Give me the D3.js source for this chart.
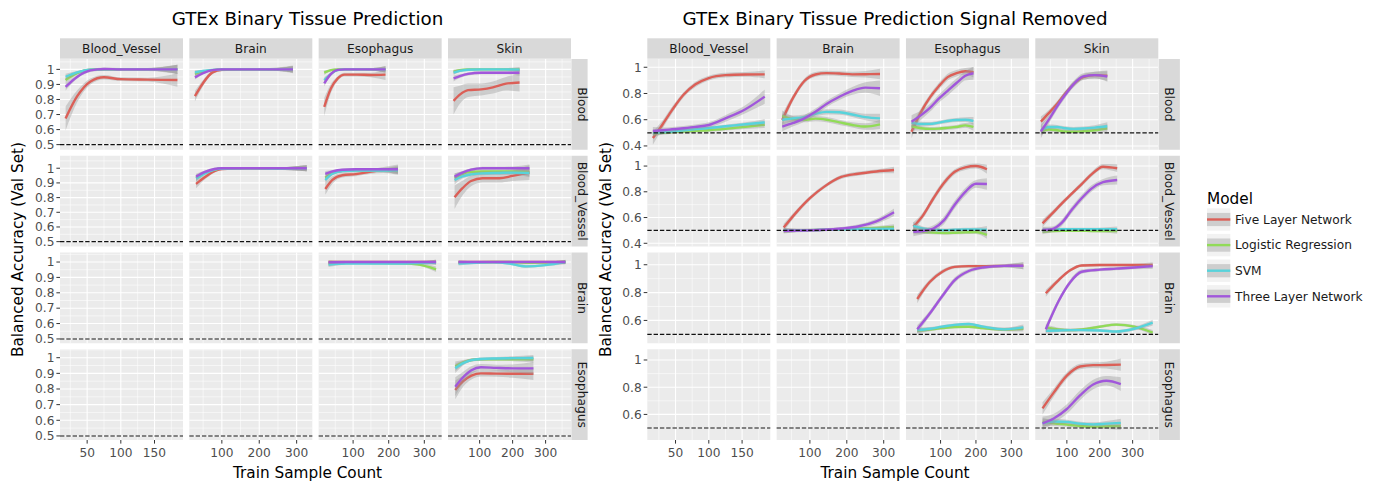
<!DOCTYPE html>
<html>
<head>
<meta charset="utf-8">
<script src="https://cdn.jsdelivr.net/npm/d3@7"></script>
<style>
body { margin: 0; background: #fff; }
svg { display: block; font-family: "DejaVu Sans", sans-serif; }
</style>
</head>
<body>
<svg id="chart" width="1381" height="486"></svg>
<script>
var models = ["Five Layer Network", "Logistic Regression", "SVM", "Three Layer Network"];
var modelColors = ["#db5f57", "#91db57", "#57d3db", "#a157db"];
var colTissues = ["Blood_Vessel", "Brain", "Esophagus", "Skin"];
var rowTissues = ["Blood", "Blood_Vessel", "Brain", "Esophagus"];

var xTicksBV = [50, 100, 150],
    xTicksOther = [100, 200, 300];
var leftYTicks = [0.5, 0.6, 0.7, 0.8, 0.9, 1],
    rightYTicks = [0.4, 0.6, 0.8, 1];
var leftYDomains = [[0.466, 1.069], [0.467, 1.085], [0.472, 1.062], [0.474, 1.054]];
var rightYDomains = [[0.371, 1.063], [0.375, 1.08], [0.436, 1.088], [0.412, 1.079]];
var chanceLevel = 0.5;

// ---- left chart: GTEx Binary Tissue Prediction ----
// each panel: x, mean per model, se per model (order as `models`)
var lBloodBV_x = [18, 35, 55, 75, 100, 140, 184];
var lBloodBV_y = [
    [0.674, 0.82, 0.92, 0.948, 0.935, 0.932, 0.929],
    [0.93, 0.975, 0.998, 1.0, 1.0, 1.0, 1.0],
    [0.951, 0.98, 0.998, 1.0, 1.0, 1.0, 1.0],
    [0.884, 0.95, 0.993, 1.003, 1.0, 1.0, 1.0]];
var lBloodBV_se = [
    [0.08, 0.04, 0.02, 0.015, 0.012, 0.012, 0.045],
    [0.02, 0.01, 0.008, 0.008, 0.008, 0.008, 0.03],
    [0.02, 0.01, 0.008, 0.008, 0.008, 0.008, 0.03],
    [0.025, 0.012, 0.01, 0.01, 0.01, 0.01, 0.03]];

var lBloodBrain_x = [28, 50, 75, 100, 150, 220, 290];
var lBloodBrain_y = [
    [0.822, 0.91, 0.98, 0.997, 1.0, 1.0, 1.0],
    [0.97, 0.985, 0.995, 1.0, 1.0, 1.0, 1.0],
    [0.98, 0.99, 0.997, 1.0, 1.0, 1.0, 1.0],
    [0.947, 0.975, 0.995, 1.0, 1.0, 1.0, 1.0]];
var lBloodBrain_se = [
    [0.035, 0.02, 0.012, 0.01, 0.008, 0.008, 0.025],
    [0.015, 0.008, 0.006, 0.006, 0.006, 0.006, 0.02],
    [0.015, 0.008, 0.006, 0.006, 0.006, 0.006, 0.02],
    [0.015, 0.008, 0.006, 0.006, 0.006, 0.006, 0.02]];

var lBloodEso_x = [19, 38, 57, 76, 110, 150, 191];
var lBloodEso_y = [
    [0.751, 0.874, 0.94, 0.965, 0.965, 0.963, 0.965],
    [0.978, 0.995, 1.0, 1.0, 1.0, 1.0, 1.0],
    [0.929, 0.97, 0.995, 1.0, 1.0, 1.0, 1.0],
    [0.907, 0.97, 0.997, 1.0, 1.0, 1.0, 1.0]];
var lBloodEso_se = [
    [0.06, 0.03, 0.015, 0.012, 0.012, 0.015, 0.035],
    [0.015, 0.008, 0.006, 0.006, 0.006, 0.008, 0.02],
    [0.02, 0.01, 0.006, 0.006, 0.006, 0.008, 0.02],
    [0.02, 0.01, 0.006, 0.006, 0.006, 0.008, 0.02]];

var lBloodSkin_x = [21, 40, 65, 105, 140, 180, 221];
var lBloodSkin_y = [
    [0.791, 0.832, 0.862, 0.867, 0.88, 0.905, 0.913],
    [0.985, 0.995, 1.0, 1.0, 1.0, 1.0, 1.0],
    [0.978, 0.99, 0.998, 1.0, 1.0, 1.0, 0.998],
    [0.94, 0.955, 0.97, 0.978, 0.978, 0.978, 0.978]];
var lBloodSkin_se = [
    [0.09, 0.06, 0.045, 0.04, 0.04, 0.045, 0.06],
    [0.015, 0.008, 0.006, 0.006, 0.006, 0.008, 0.015],
    [0.015, 0.008, 0.006, 0.006, 0.006, 0.008, 0.015],
    [0.02, 0.012, 0.01, 0.01, 0.01, 0.01, 0.02]];

var lBVBrain_x = [31, 55, 80, 100, 160, 240, 327];
var lBVBrain_y = [
    [0.893, 0.94, 0.98, 0.995, 1.0, 0.998, 1.0],
    [0.935, 0.97, 0.99, 1.0, 1.0, 0.998, 1.0],
    [0.93, 0.965, 0.99, 0.998, 1.0, 0.998, 1.0],
    [0.943, 0.975, 0.995, 1.0, 1.0, 1.0, 1.0]];
var lBVBrain_se = [
    [0.03, 0.015, 0.01, 0.008, 0.008, 0.008, 0.02],
    [0.02, 0.01, 0.008, 0.006, 0.006, 0.006, 0.02],
    [0.02, 0.01, 0.008, 0.006, 0.006, 0.006, 0.02],
    [0.02, 0.01, 0.008, 0.006, 0.006, 0.006, 0.02]];

var lBVEso_x = [22, 42, 70, 108, 146, 186, 226];
var lBVEso_y = [
    [0.859, 0.92, 0.952, 0.96, 0.975, 0.988, 0.99],
    [0.935, 0.968, 0.982, 0.986, 0.987, 0.987, 0.985],
    [0.92, 0.962, 0.98, 0.985, 0.985, 0.985, 0.985],
    [0.961, 0.978, 0.99, 0.993, 0.993, 0.993, 0.993]];
var lBVEso_se = [
    [0.04, 0.025, 0.015, 0.015, 0.015, 0.02, 0.035],
    [0.025, 0.012, 0.01, 0.01, 0.01, 0.012, 0.025],
    [0.025, 0.012, 0.01, 0.01, 0.01, 0.012, 0.025],
    [0.02, 0.01, 0.008, 0.008, 0.008, 0.01, 0.025]];

var lBVSkin_x = [24, 48, 74, 109, 160, 200, 251];
var lBVSkin_y = [
    [0.802, 0.864, 0.913, 0.932, 0.932, 0.948, 0.97],
    [0.935, 0.962, 0.975, 0.978, 0.978, 0.978, 0.975],
    [0.92, 0.945, 0.958, 0.965, 0.968, 0.97, 0.968],
    [0.943, 0.97, 0.99, 1.0, 1.0, 1.0, 1.0]];
var lBVSkin_se = [
    [0.08, 0.05, 0.035, 0.03, 0.03, 0.035, 0.05],
    [0.03, 0.015, 0.012, 0.012, 0.012, 0.015, 0.03],
    [0.03, 0.015, 0.012, 0.012, 0.012, 0.015, 0.03],
    [0.02, 0.012, 0.01, 0.01, 0.01, 0.012, 0.025]];

var lBrainEso_x = [31, 80, 130, 180, 230, 280, 333];
var lBrainEso_y = [
    [1.0, 1.0, 1.0, 1.0, 1.0, 1.0, 1.0],
    [0.99, 0.995, 0.995, 0.993, 0.992, 0.985, 0.953],
    [0.983, 0.99, 0.99, 0.99, 0.99, 0.993, 0.995],
    [0.998, 1.0, 1.0, 1.0, 1.0, 1.0, 1.0]];
var lBrainEso_se = [
    [0.012, 0.006, 0.005, 0.005, 0.005, 0.006, 0.015],
    [0.015, 0.008, 0.006, 0.006, 0.006, 0.008, 0.018],
    [0.015, 0.008, 0.006, 0.006, 0.006, 0.008, 0.015],
    [0.012, 0.006, 0.005, 0.005, 0.005, 0.006, 0.015]];

var lBrainSkin_x = [36, 90, 140, 190, 240, 300, 360];
var lBrainSkin_y = [
    [1.0, 1.0, 1.0, 1.0, 1.0, 1.0, 1.0],
    [0.995, 0.998, 1.0, 1.0, 0.995, 0.997, 1.0],
    [0.99, 0.995, 0.998, 0.99, 0.972, 0.98, 1.0],
    [1.0, 1.0, 1.0, 1.0, 1.0, 1.0, 1.0]];
var lBrainSkin_se = [
    [0.01, 0.005, 0.005, 0.005, 0.005, 0.005, 0.012],
    [0.01, 0.005, 0.005, 0.005, 0.006, 0.006, 0.012],
    [0.012, 0.006, 0.006, 0.008, 0.01, 0.008, 0.015],
    [0.01, 0.005, 0.005, 0.005, 0.005, 0.005, 0.012]];

var lEsoSkin_x = [26, 50, 75, 104, 150, 200, 263];
var lEsoSkin_y = [
    [0.794, 0.85, 0.885, 0.9, 0.898, 0.897, 0.897],
    [0.945, 0.97, 0.985, 0.99, 0.99, 0.99, 0.99],
    [0.932, 0.965, 0.985, 0.992, 0.995, 0.997, 0.998],
    [0.815, 0.875, 0.92, 0.939, 0.935, 0.932, 0.932]];
var lEsoSkin_se = [
    [0.06, 0.035, 0.025, 0.02, 0.02, 0.025, 0.04],
    [0.03, 0.015, 0.01, 0.01, 0.01, 0.012, 0.02],
    [0.03, 0.015, 0.01, 0.01, 0.01, 0.012, 0.02],
    [0.06, 0.035, 0.025, 0.02, 0.02, 0.025, 0.04]];

// ---- right chart: Signal Removed ----
var rBloodBV_x = [16, 30, 45, 62, 80, 100, 125, 155, 184];
var rBloodBV_y = [
    [0.46, 0.56, 0.675, 0.79, 0.87, 0.918, 0.94, 0.945, 0.946],
    [0.497, 0.5, 0.505, 0.51, 0.515, 0.52, 0.53, 0.545, 0.562],
    [0.5, 0.505, 0.51, 0.52, 0.528, 0.537, 0.55, 0.565, 0.58],
    [0.514, 0.52, 0.527, 0.535, 0.545, 0.56, 0.61, 0.68, 0.776]];
var rBloodBV_se = [
    [0.05, 0.03, 0.025, 0.02, 0.02, 0.018, 0.018, 0.018, 0.03],
    [0.025, 0.015, 0.012, 0.012, 0.012, 0.012, 0.012, 0.015, 0.025],
    [0.025, 0.015, 0.012, 0.012, 0.012, 0.012, 0.012, 0.015, 0.025],
    [0.03, 0.02, 0.018, 0.018, 0.018, 0.02, 0.025, 0.03, 0.055]];

var rBloodBrain_x = [25, 55, 85, 115, 145, 180, 215, 250, 290];
var rBloodBrain_y = [
    [0.598, 0.77, 0.895, 0.945, 0.955, 0.952, 0.946, 0.947, 0.949],
    [0.63, 0.605, 0.6, 0.608, 0.6, 0.58, 0.56, 0.548, 0.565],
    [0.6, 0.61, 0.62, 0.645, 0.66, 0.657, 0.64, 0.62, 0.61],
    [0.547, 0.575, 0.61, 0.66, 0.72, 0.775, 0.82, 0.845, 0.84]];
var rBloodBrain_se = [
    [0.045, 0.025, 0.02, 0.018, 0.018, 0.018, 0.02, 0.025, 0.04],
    [0.04, 0.022, 0.02, 0.02, 0.02, 0.02, 0.02, 0.025, 0.035],
    [0.04, 0.022, 0.02, 0.02, 0.02, 0.02, 0.02, 0.025, 0.035],
    [0.035, 0.025, 0.025, 0.025, 0.025, 0.025, 0.03, 0.04, 0.06]];

var rBloodEso_x = [18, 45, 70, 95, 120, 145, 170, 193];
var rBloodEso_y = [
    [0.509, 0.66, 0.77, 0.855, 0.925, 0.955, 0.97, 0.962],
    [0.55, 0.535, 0.53, 0.532, 0.538, 0.545, 0.557, 0.545],
    [0.578, 0.567, 0.568, 0.578, 0.59, 0.598, 0.6, 0.59],
    [0.585, 0.635, 0.69, 0.76, 0.82, 0.88, 0.935, 0.954]];
var rBloodEso_se = [
    [0.05, 0.03, 0.025, 0.025, 0.025, 0.025, 0.025, 0.04],
    [0.03, 0.018, 0.015, 0.015, 0.015, 0.015, 0.018, 0.03],
    [0.03, 0.018, 0.015, 0.015, 0.015, 0.015, 0.018, 0.03],
    [0.05, 0.035, 0.03, 0.03, 0.035, 0.035, 0.035, 0.05]];

var rBloodSkin_x = [21, 45, 70, 95, 120, 150, 185, 223];
var rBloodSkin_y = [
    [0.585, 0.65, 0.72, 0.8, 0.87, 0.925, 0.94, 0.936],
    [0.509, 0.525, 0.52, 0.51, 0.508, 0.512, 0.52, 0.535],
    [0.52, 0.545, 0.545, 0.535, 0.53, 0.533, 0.54, 0.55],
    [0.509, 0.6, 0.7, 0.79, 0.87, 0.93, 0.94, 0.93]];
var rBloodSkin_se = [
    [0.04, 0.025, 0.02, 0.02, 0.02, 0.02, 0.025, 0.04],
    [0.03, 0.018, 0.015, 0.015, 0.015, 0.015, 0.018, 0.03],
    [0.03, 0.018, 0.015, 0.015, 0.015, 0.015, 0.018, 0.03],
    [0.05, 0.03, 0.025, 0.025, 0.025, 0.025, 0.025, 0.04]];

var rBVBrain_x = [29, 65, 100, 140, 185, 230, 280, 328];
var rBVBrain_y = [
    [0.522, 0.646, 0.75, 0.842, 0.915, 0.94, 0.958, 0.969],
    [0.5, 0.5, 0.502, 0.505, 0.51, 0.515, 0.52, 0.527],
    [0.5, 0.5, 0.502, 0.505, 0.508, 0.51, 0.512, 0.512],
    [0.496, 0.498, 0.5, 0.505, 0.515, 0.53, 0.57, 0.641]];
var rBVBrain_se = [
    [0.03, 0.02, 0.018, 0.015, 0.015, 0.015, 0.015, 0.025],
    [0.02, 0.012, 0.01, 0.01, 0.01, 0.01, 0.012, 0.02],
    [0.02, 0.012, 0.01, 0.01, 0.01, 0.01, 0.012, 0.02],
    [0.02, 0.012, 0.012, 0.012, 0.012, 0.015, 0.02, 0.03]];

var rBVEso_x = [23, 50, 80, 110, 140, 170, 200, 231];
var rBVEso_y = [
    [0.529, 0.615, 0.75, 0.87, 0.955, 0.99, 1.0, 0.975],
    [0.5, 0.49, 0.483, 0.48, 0.482, 0.485, 0.488, 0.465],
    [0.535, 0.515, 0.505, 0.502, 0.505, 0.508, 0.508, 0.505],
    [0.49, 0.495, 0.515, 0.58, 0.7, 0.8, 0.862, 0.86]];
var rBVEso_se = [
    [0.035, 0.025, 0.025, 0.025, 0.02, 0.02, 0.02, 0.035],
    [0.03, 0.015, 0.012, 0.012, 0.012, 0.012, 0.015, 0.03],
    [0.03, 0.015, 0.012, 0.012, 0.012, 0.012, 0.015, 0.03],
    [0.035, 0.025, 0.025, 0.03, 0.03, 0.03, 0.03, 0.045]];

var rBVSkin_x = [26, 55, 85, 115, 145, 175, 210, 253];
var rBVSkin_y = [
    [0.555, 0.63, 0.71, 0.785, 0.86, 0.935, 0.995, 0.983],
    [0.49, 0.495, 0.497, 0.497, 0.497, 0.495, 0.495, 0.495],
    [0.503, 0.508, 0.51, 0.51, 0.51, 0.51, 0.51, 0.51],
    [0.503, 0.51, 0.56, 0.66, 0.75, 0.825, 0.875, 0.892]];
var rBVSkin_se = [
    [0.03, 0.02, 0.018, 0.018, 0.018, 0.018, 0.02, 0.03],
    [0.02, 0.012, 0.01, 0.01, 0.01, 0.01, 0.012, 0.02],
    [0.02, 0.012, 0.01, 0.01, 0.01, 0.01, 0.012, 0.02],
    [0.025, 0.02, 0.025, 0.025, 0.025, 0.025, 0.025, 0.035]];

var rBrainEso_x = [34, 70, 105, 140, 180, 220, 280, 334];
var rBrainEso_y = [
    [0.754, 0.878, 0.95, 0.985, 0.99, 0.99, 0.992, 0.993],
    [0.525, 0.535, 0.545, 0.553, 0.555, 0.545, 0.535, 0.54],
    [0.53, 0.54, 0.555, 0.568, 0.574, 0.555, 0.536, 0.55],
    [0.536, 0.651, 0.775, 0.89, 0.955, 0.98, 0.992, 0.993]];
var rBrainEso_se = [
    [0.03, 0.018, 0.015, 0.012, 0.012, 0.012, 0.012, 0.025],
    [0.02, 0.012, 0.01, 0.01, 0.01, 0.01, 0.012, 0.02],
    [0.02, 0.012, 0.01, 0.01, 0.01, 0.01, 0.012, 0.02],
    [0.03, 0.02, 0.02, 0.02, 0.015, 0.012, 0.012, 0.025]];

var rBrainSkin_x = [36, 75, 110, 145, 200, 250, 305, 361];
var rBrainSkin_y = [
    [0.795, 0.89, 0.96, 0.995, 0.998, 0.998, 0.998, 0.998],
    [0.55, 0.535, 0.53, 0.535, 0.555, 0.57, 0.555, 0.512],
    [0.525, 0.528, 0.53, 0.53, 0.528, 0.52, 0.54, 0.584],
    [0.536, 0.74, 0.875, 0.95, 0.965, 0.972, 0.98, 0.99]];
var rBrainSkin_se = [
    [0.025, 0.015, 0.012, 0.01, 0.01, 0.01, 0.01, 0.02],
    [0.02, 0.012, 0.01, 0.01, 0.01, 0.01, 0.012, 0.02],
    [0.02, 0.012, 0.01, 0.01, 0.01, 0.01, 0.012, 0.02],
    [0.03, 0.02, 0.018, 0.015, 0.012, 0.012, 0.012, 0.02]];

var rEsoSkin_x = [26, 60, 100, 140, 180, 220, 264];
var rEsoSkin_y = [
    [0.644, 0.76, 0.885, 0.952, 0.962, 0.963, 0.966],
    [0.545, 0.535, 0.525, 0.515, 0.51, 0.512, 0.515],
    [0.534, 0.548, 0.545, 0.532, 0.527, 0.532, 0.538],
    [0.534, 0.57, 0.64, 0.74, 0.82, 0.848, 0.823]];
var rEsoSkin_se = [
    [0.045, 0.03, 0.025, 0.02, 0.02, 0.025, 0.045],
    [0.03, 0.02, 0.015, 0.015, 0.015, 0.02, 0.03],
    [0.03, 0.02, 0.015, 0.015, 0.015, 0.02, 0.03],
    [0.05, 0.035, 0.035, 0.035, 0.035, 0.035, 0.05]];

// [row, col, x, y, se]
var leftPanels = [
    [0, 0, lBloodBV_x, lBloodBV_y, lBloodBV_se],
    [0, 1, lBloodBrain_x, lBloodBrain_y, lBloodBrain_se],
    [0, 2, lBloodEso_x, lBloodEso_y, lBloodEso_se],
    [0, 3, lBloodSkin_x, lBloodSkin_y, lBloodSkin_se],
    [1, 1, lBVBrain_x, lBVBrain_y, lBVBrain_se],
    [1, 2, lBVEso_x, lBVEso_y, lBVEso_se],
    [1, 3, lBVSkin_x, lBVSkin_y, lBVSkin_se],
    [2, 2, lBrainEso_x, lBrainEso_y, lBrainEso_se],
    [2, 3, lBrainSkin_x, lBrainSkin_y, lBrainSkin_se],
    [3, 3, lEsoSkin_x, lEsoSkin_y, lEsoSkin_se]
];
var rightPanels = [
    [0, 0, rBloodBV_x, rBloodBV_y, rBloodBV_se],
    [0, 1, rBloodBrain_x, rBloodBrain_y, rBloodBrain_se],
    [0, 2, rBloodEso_x, rBloodEso_y, rBloodEso_se],
    [0, 3, rBloodSkin_x, rBloodSkin_y, rBloodSkin_se],
    [1, 1, rBVBrain_x, rBVBrain_y, rBVBrain_se],
    [1, 2, rBVEso_x, rBVEso_y, rBVEso_se],
    [1, 3, rBVSkin_x, rBVSkin_y, rBVSkin_se],
    [2, 2, rBrainEso_x, rBrainEso_y, rBrainEso_se],
    [2, 3, rBrainSkin_x, rBrainSkin_y, rBrainSkin_se],
    [3, 3, rEsoSkin_x, rEsoSkin_y, rEsoSkin_se]
];

var panel = {
        w: 123,
        h: 90.75,
        colStep: 129.33,
        rowStep: 96.75,
        top: 59
    },
    strip = { top: 38.3, h: 20.4 },
    fontSmall = "12.2px",
    fontAxis = "15.3px",
    svg = d3.select("#chart");

svg.append("rect").attr("width", 1381).attr("height", 486).attr("fill", "#fff");

var clipCount = 0;

function fmt(v) {
    return String(+v.toFixed(2));
}

function minorsOf(ticks, domain) {
    var step = ticks[1] - ticks[0], out = [];
    ticks.forEach(function(t) { out.push(t - step / 2); });
    out.push(ticks[ticks.length - 1] + step / 2);
    return out.filter(function(m) { return m > domain[0] && m < domain[1]; });
}

function drawChart(opts) {
    var g = svg.append("g");

    // x domain per column from data extent, 5% expanded like ggplot
    var xScales = colTissues.map(function(t, c) {
        var all = [];
        opts.panels.forEach(function(p) { if (p[1] === c) all = all.concat(p[2]); });
        var ext = d3.extent(all), pad = (ext[1] - ext[0]) * 0.05;
        return d3.scaleLinear().domain([ext[0] - pad, ext[1] + pad]).range([0, panel.w]);
    });
    var yScales = rowTissues.map(function(t, r) {
        return d3.scaleLinear().domain(opts.yDomains[r]).range([panel.h, 0]);
    });

    for (var r = 0; r < 4; r++) {
        for (var c = 0; c < 4; c++) {
            var px = opts.x0 + c * panel.colStep,
                py = panel.top + r * panel.rowStep,
                x = xScales[c], y = yScales[r];
            var xt = c === 0 ? xTicksBV : xTicksOther;
            var yt = opts.yTicks.filter(function(v) { return v >= y.domain()[0] && v <= y.domain()[1]; });
            var xMinor = minorsOf(xt, x.domain()),
                yMinor = minorsOf(opts.yTicks, y.domain());

            var pg = g.append("g").attr("transform", "translate(" + px + "," + py + ")");
            pg.append("rect").attr("width", panel.w).attr("height", panel.h).attr("fill", "#EBEBEB");

            pg.selectAll(".xminor").data(xMinor).enter().append("line")
                .attr("x1", x).attr("x2", x).attr("y1", 0).attr("y2", panel.h)
                .attr("stroke", "#fff").attr("stroke-width", 0.55);
            pg.selectAll(".yminor").data(yMinor).enter().append("line")
                .attr("y1", y).attr("y2", y).attr("x1", 0).attr("x2", panel.w)
                .attr("stroke", "#fff").attr("stroke-width", 0.55);
            pg.selectAll(".xmajor").data(xt).enter().append("line")
                .attr("x1", x).attr("x2", x).attr("y1", 0).attr("y2", panel.h)
                .attr("stroke", "#fff").attr("stroke-width", 1.1);
            pg.selectAll(".ymajor").data(yt).enter().append("line")
                .attr("y1", y).attr("y2", y).attr("x1", 0).attr("x2", panel.w)
                .attr("stroke", "#fff").attr("stroke-width", 1.1);

            var pdata = opts.panels.filter(function(p) { return p[0] === r && p[1] === c; })[0];
            if (pdata) {
                var cid = "clip" + (clipCount++);
                pg.append("clipPath").attr("id", cid)
                    .append("rect").attr("width", panel.w).attr("height", panel.h);
                var dg = pg.append("g").attr("clip-path", "url(#" + cid + ")");
                models.forEach(function(m, k) {
                    var pts = pdata[2].map(function(xv, i) {
                        return { x: xv, v: pdata[3][k][i], se: pdata[4][k][i] };
                    });
                    var area = d3.area().curve(d3.curveMonotoneX)
                        .x(function(d) { return x(d.x); })
                        .y0(function(d) { return y(d.v - d.se); })
                        .y1(function(d) { return y(d.v + d.se); });
                    var line = d3.line().curve(d3.curveMonotoneX)
                        .x(function(d) { return x(d.x); })
                        .y(function(d) { return y(d.v); });
                    dg.append("path").attr("d", area(pts))
                        .attr("fill", "#999999").attr("fill-opacity", 0.4);
                    dg.append("path").attr("d", line(pts))
                        .attr("fill", "none").attr("stroke", modelColors[k])
                        .attr("stroke-width", 2.4);
                });
            }

            // chance line
            pg.append("line")
                .attr("x1", 0).attr("x2", panel.w)
                .attr("y1", y(chanceLevel)).attr("y2", y(chanceLevel))
                .attr("stroke", "#111").attr("stroke-width", 1.1)
                .attr("stroke-dasharray", "4.4,1.9");

            // top strips
            if (r === 0) {
                g.append("rect").attr("x", px).attr("y", strip.top)
                    .attr("width", panel.w).attr("height", strip.h).attr("fill", "#D9D9D9");
                g.append("text").attr("x", px + panel.w / 2).attr("y", strip.top + strip.h / 2 + 4.4)
                    .attr("text-anchor", "middle").style("font-size", fontSmall)
                    .attr("fill", "#1A1A1A").text(colTissues[c]);
            }
            // right strips
            if (c === 3) {
                var sx = px + panel.w + 0.4;
                g.append("rect").attr("x", sx).attr("y", py)
                    .attr("width", opts.stripW).attr("height", panel.h).attr("fill", "#D9D9D9");
                g.append("text")
                    .attr("transform", "translate(" + (opts.stripTextX) + "," + (py + panel.h / 2) + ") rotate(90)")
                    .attr("text-anchor", "middle").attr("dy", "0.36em")
                    .style("font-size", fontSmall).attr("fill", "#1A1A1A")
                    .text(rowTissues[r]);
            }
            // y axis
            if (c === 0) {
                var ya = g.append("g").attr("transform", "translate(" + px + "," + py + ")");
                ya.selectAll("line").data(yt).enter().append("line")
                    .attr("x1", -3.6).attr("x2", 0).attr("y1", y).attr("y2", y)
                    .attr("stroke", "#333").attr("stroke-width", 1);
                ya.selectAll("text").data(yt).enter().append("text")
                    .attr("x", -5.6).attr("y", function(d) { return y(d) + 4.3; })
                    .attr("text-anchor", "end").style("font-size", fontSmall)
                    .attr("fill", "#4D4D4D").text(fmt);
            }
            // x axis
            if (r === 3) {
                var xa = g.append("g").attr("transform", "translate(" + px + "," + (py + panel.h) + ")");
                xa.selectAll("line").data(xt).enter().append("line")
                    .attr("x1", x).attr("x2", x).attr("y1", 0).attr("y2", 3.6)
                    .attr("stroke", "#333").attr("stroke-width", 1);
                xa.selectAll("text").data(xt).enter().append("text")
                    .attr("x", x).attr("y", 17)
                    .attr("text-anchor", "middle").style("font-size", fontSmall)
                    .attr("fill", "#4D4D4D").text(fmt);
            }
        }
    }

    g.append("text").attr("x", opts.titleX).attr("y", 24.5)
        .attr("text-anchor", "middle").style("font-size", "18.3px")
        .attr("fill", "#000").text(opts.title);
    g.append("text").attr("x", opts.titleX).attr("y", 478)
        .attr("text-anchor", "middle").style("font-size", fontAxis)
        .attr("fill", "#000").text("Train Sample Count");
    g.append("text")
        .attr("transform", "translate(" + opts.yTitleX + "," + (panel.top + (3 * panel.rowStep + panel.h) / 2) + ") rotate(-90)")
        .attr("text-anchor", "middle").style("font-size", fontAxis)
        .attr("fill", "#000").text("Balanced Accuracy (Val Set)");
}

drawChart({
    x0: 60,
    panels: leftPanels,
    yDomains: leftYDomains,
    yTicks: leftYTicks,
    stripW: 16.2,
    stripTextX: 582.2,
    title: "GTEx Binary Tissue Prediction",
    titleX: 307.5,
    yTitleX: 23
});

drawChart({
    x0: 647.3,
    panels: rightPanels,
    yDomains: rightYDomains,
    yTicks: rightYTicks,
    stripW: 21.2,
    stripTextX: 1169.8,
    title: "GTEx Binary Tissue Prediction Signal Removed",
    titleX: 895,
    yTitleX: 610.5
});

// legend
var legend = svg.append("g").attr("transform", "translate(1207, 0)");
legend.append("text").attr("x", 0).attr("y", 203.5)
    .style("font-size", fontAxis).attr("fill", "#000").text("Model");
var keys = legend.selectAll(".key").data(models).enter().append("g")
    .attr("transform", function(d, i) { return "translate(0," + (208.3 + i * 25.6) + ")"; });
keys.append("rect").attr("width", 23.3).attr("height", 22.4).attr("fill", "#F2F2F2");
keys.append("rect").attr("y", 4.6).attr("width", 23.3).attr("height", 13.2)
    .attr("fill", "#999999").attr("fill-opacity", 0.4);
keys.append("line").attr("x1", 0).attr("x2", 23.3).attr("y1", 11.2).attr("y2", 11.2)
    .attr("stroke", function(d, i) { return modelColors[i]; }).attr("stroke-width", 2.4);
keys.append("text").attr("x", 28).attr("y", 15.5)
    .style("font-size", fontSmall).attr("fill", "#1A1A1A").text(function(d) { return d; });
</script>
</body>
</html>
